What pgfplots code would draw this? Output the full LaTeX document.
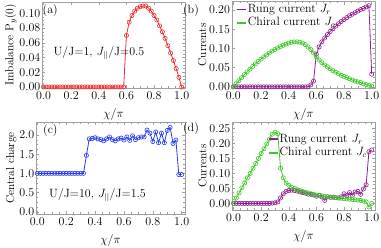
\documentclass[border=0pt]{standalone}
\usepackage{pgfplots}
\pgfplotsset{compat=1.18}
\definecolor{myred}{RGB}{235,45,45}
\definecolor{myblue}{RGB}{40,60,240}
\definecolor{mypurple}{RGB}{145,30,145}
\definecolor{mygreen}{RGB}{60,200,40}
\definecolor{framegray}{RGB}{160,160,160}
\pgfplotsset{
  panel/.style={
    scale only axis,
    axis line style={framegray},
    every tick/.style={framegray},
    tick align=inside,
    xtick={0,0.2,0.4,0.6,0.8,1.0},
    minor x tick num=3,
    minor y tick num=3,
    major tick length=3pt, minor tick length=1.6pt,
    tick label style={font=\fontsize{12}{14}\selectfont, inner sep=1.5pt},
    xticklabel style={/pgf/number format/.cd,fixed,fixed zerofill,precision=1,/tikz/.cd, inner sep=3.5pt},
    label style={font=\fontsize{11.5}{14}\selectfont},
    xlabel={$\chi/\pi$},
    xlabel style={yshift=-1pt},
    ylabel shift=-3pt,
  },
  pl/.style={#1, line width=0.8pt, mark=o, mark size=2.1pt, mark options={solid, line width=0.6pt}},
  leg/.style={
    legend style={draw=none, fill=none, inner sep=0pt, row sep=0.5pt,
      font=\fontsize{12}{14}\selectfont,
      nodes={inner sep=1pt, text height=8.5pt, text depth=2.5pt}},
    legend cell align=left,
    legend image code/.code={\draw[line width=1.6pt] (0pt,0pt) -- (9pt,0pt);},
  }
}
\pgfplotstableread{
x y
0.00 0
0.02 0
0.04 0
0.06 0
0.08 0
0.10 0
0.12 0
0.14 0
0.16 0
0.18 0
0.20 0
0.22 0
0.24 0
0.26 0
0.28 0
0.30 0
0.32 0
0.34 0
0.36 0
0.38 0
0.40 0
0.42 0
0.44 0
0.46 0
0.48 0
0.50 0
0.52 0
0.54 0
0.56 0
0.58 0
0.60 0.070
0.62 0.088
0.64 0.097
0.66 0.103
0.68 0.107
0.70 0.109
0.72 0.110
0.74 0.110
0.76 0.107
0.78 0.103
0.80 0.097
0.82 0.091
0.84 0.083
0.86 0.075
0.88 0.066
0.90 0.056
0.92 0.046
0.94 0.036
0.96 0.025
0.98 0.013
1.00 0.000
}\tabA
\pgfplotstableread{
x r c
0.00 0.000 0.000
0.02 0.000 0.008
0.04 0.000 0.016
0.06 0.000 0.024
0.08 0.000 0.032
0.10 0.000 0.039
0.12 0.000 0.046
0.14 0.000 0.053
0.16 0.000 0.060
0.18 0.000 0.066
0.20 0.000 0.072
0.22 0.000 0.078
0.24 0.000 0.083
0.26 0.000 0.088
0.28 0.000 0.093
0.30 0.000 0.097
0.32 0.000 0.101
0.34 0.000 0.105
0.36 0.000 0.108
0.38 0.000 0.111
0.40 0.000 0.114
0.42 0.000 0.116
0.44 0.000 0.117
0.46 0.000 0.117
0.48 0.000 0.116
0.50 0.000 0.114
0.52 0.000 0.110
0.54 0.000 0.104
0.56 0.005 0.097
0.58 0.015 0.088
0.60 0.085 0.078
0.62 0.104 0.070
0.64 0.117 0.063
0.66 0.127 0.057
0.68 0.136 0.052
0.70 0.144 0.047
0.72 0.151 0.042
0.74 0.158 0.038
0.76 0.164 0.034
0.78 0.170 0.030
0.80 0.175 0.027
0.82 0.180 0.024
0.84 0.185 0.021
0.86 0.189 0.018
0.88 0.193 0.015
0.90 0.197 0.013
0.92 0.201 0.011
0.94 0.204 0.008
0.96 0.208 0.006
0.98 0.211 0.004
1.00 0.033 0.002
}\tabB
\pgfplotstableread{
x y
0.00 1.00
0.02 1.00
0.04 1.00
0.06 1.00
0.08 1.00
0.10 1.00
0.12 1.00
0.14 1.00
0.16 1.00
0.18 1.00
0.20 1.00
0.22 1.00
0.24 1.00
0.26 1.00
0.28 1.00
0.30 1.00
0.32 1.00
0.34 1.47
0.36 1.90
0.38 1.91
0.40 1.93
0.42 1.90
0.44 1.88
0.46 1.85
0.48 1.90
0.50 1.95
0.52 1.88
0.54 1.85
0.56 1.90
0.58 1.92
0.60 1.87
0.62 1.95
0.64 1.86
0.66 1.98
0.68 1.88
0.70 1.93
0.72 1.95
0.74 1.95
0.76 2.13
0.78 2.05
0.80 1.83
0.82 2.08
0.84 1.80
0.86 2.05
0.88 1.80
0.90 2.12
0.92 2.20
0.94 1.78
0.96 1.87
0.98 0.97
1.00 0.97
}\tabC
\pgfplotstableread{
x r c
0.00 0.000 0.000
0.02 0.000 0.018
0.04 0.000 0.035
0.06 0.000 0.052
0.08 0.000 0.068
0.10 0.000 0.085
0.12 0.000 0.100
0.14 0.000 0.117
0.16 0.000 0.133
0.18 0.000 0.150
0.20 0.000 0.166
0.22 0.000 0.182
0.24 0.000 0.198
0.26 0.000 0.214
0.28 0.001 0.230
0.30 0.002 0.237
0.32 0.005 0.232
0.34 0.018 0.117
0.36 0.032 0.085
0.38 0.040 0.068
0.40 0.043 0.060
0.42 0.044 0.054
0.44 0.043 0.050
0.46 0.041 0.046
0.48 0.038 0.043
0.50 0.036 0.040
0.52 0.034 0.037
0.54 0.031 0.035
0.56 0.030 0.032
0.58 0.028 0.030
0.60 0.024 0.028
0.62 0.027 0.026
0.64 0.021 0.025
0.66 0.010 0.023
0.68 0.022 0.022
0.70 0.020 0.021
0.72 0.021 0.020
0.74 0.019 0.019
0.76 0.018 0.018
0.78 0.022 0.017
0.80 0.032 0.016
0.82 0.026 0.015
0.84 0.036 0.014
0.86 0.027 0.013
0.88 0.038 0.012
0.90 0.040 0.011
0.92 0.030 0.010
0.94 0.048 0.008
0.96 0.062 0.005
0.98 0.172 -0.012
1.00 0.178 0.000
}\tabD
\begin{document}
\fontsize{12}{14}\selectfont
\begin{tikzpicture}
\useasboundingbox (0,0) rectangle (381pt,247pt);
% (a)
\begin{axis}[panel, at={(42pt,159pt)}, anchor=south west,
  width=143pt, height=86.3pt,
  xmin=-0.011, xmax=1.024, ymin=-0.0014, ymax=0.1158,
  ytick={0,0.02,0.04,0.06,0.08,0.10},
  yticklabel style={/pgf/number format/.cd,fixed,fixed zerofill,precision=2},
  ylabel={Imbalance P$_y$(0)}]
\addplot[pl=myred] table[x=x,y=y] {\tabA};
\end{axis}
% (b)
\begin{axis}[panel, leg, at={(231.7pt,159pt)}, anchor=south west,
  width=143.3pt, height=86.5pt,
  xmin=-0.0116, xmax=1.024, ymin=-0.003, ymax=0.222,
  ytick={0,0.05,0.10,0.15,0.20},
  yticklabel style={/pgf/number format/.cd,fixed,fixed zerofill,precision=2},
  ylabel={Currents},
  legend style={at={(axis description cs:0.03,0.985)}, anchor=north west}]
\addplot[pl=mypurple] table[x=x,y=r] {\tabB};
\addlegendentry{Rung current $J_r$}
\addplot[pl=mygreen] table[x=x,y=c] {\tabB};
\addlegendentry{Chiral current $J_c$}
\end{axis}
% (c)
\begin{axis}[panel, at={(36pt,33pt)}, anchor=south west,
  width=149pt, height=92pt,
  xmin=-0.009, xmax=1.023, ymin=-0.06, ymax=2.34,
  ytick={0,0.5,1.0,1.5,2.0},
  yticklabel style={/pgf/number format/.cd,fixed,fixed zerofill,precision=1},
  ylabel={Central charge}]
\addplot[pl=myblue] table[x=x,y=y] {\tabC};
\end{axis}
% (d)
\begin{axis}[panel, leg, at={(232pt,37pt)}, anchor=south west,
  width=143pt, height=88pt,
  xmin=-0.0116, xmax=1.024, ymin=-0.022, ymax=0.271,
  ytick={0,0.05,0.10,0.15,0.20,0.25},
  yticklabel style={/pgf/number format/.cd,fixed,fixed zerofill,precision=2},
  ylabel={Currents},
  legend style={at={(axis description cs:0.25,0.88)}, anchor=north west}]
\addplot[pl=mypurple] table[x=x,y=r] {\tabD};
\addlegendentry{Rung current $J_r$}
\addplot[pl=mygreen] table[x=x,y=c] {\tabD};
\addlegendentry{Chiral current $J_c$}
\end{axis}
% panel labels and annotations
\node[anchor=west, inner sep=0pt] at (42.5pt,236pt) {(a)};
\node[inner sep=0pt] at (191pt,236pt) {(b)};
\node[anchor=west, inner sep=0pt] at (43pt,116pt) {(c)};
\node[inner sep=0pt] at (191pt,118pt) {(d)};
\node[inner sep=0pt] at (99pt,194pt) {U/J=1, $J_{||}$/J=0.5};
\node[inner sep=0pt] at (97.5pt,52pt) {U/J=10, $J_{||}$/J=1.5};
\end{tikzpicture}
\end{document}
